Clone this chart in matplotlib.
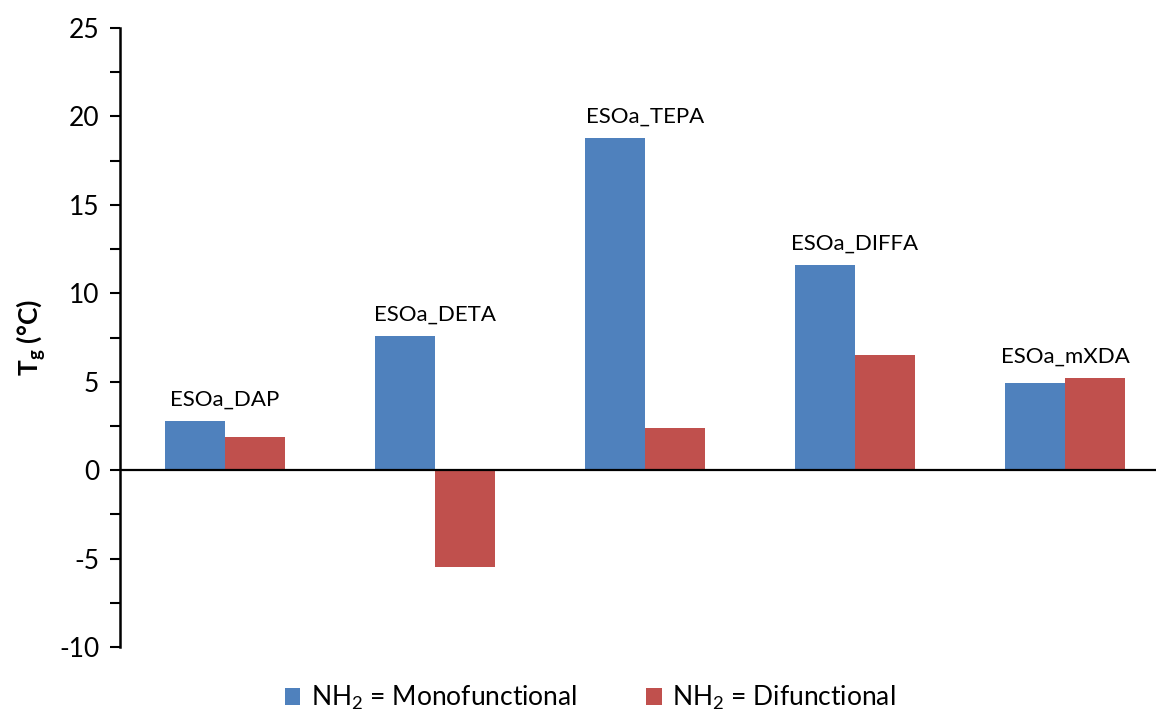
import numpy as np
import matplotlib.pyplot as plt
from matplotlib.ticker import MultipleLocator

samples = ['ESOa_DAP', 'ESOa_DETA', 'ESOa_TEPA', 'ESOa_DIFFA', 'ESOa_mXDA']
tg_mono = [2.8, 7.6, 18.8, 11.6, 4.9]
tg_di = [1.9, -5.5, 2.4, 6.5, 5.2]
series_labels = [r'NH$_2$ = Monofunctional', r'NH$_2$ = Difunctional']

plt.rcParams['font.family'] = ['Lato', 'DejaVu Sans']
plt.rcParams['mathtext.fontset'] = 'custom'
plt.rcParams['mathtext.rm'] = 'Lato'
plt.rcParams['mathtext.bf'] = 'Lato:bold'
plt.rcParams['axes.unicode_minus'] = False

fig = plt.figure(figsize=(11.56, 7.16), dpi=100)
ax = fig.add_axes([120 / 1156, 69 / 716, 1 - 120 / 1156, 619 / 716])

x = np.arange(len(samples))
w = 60 / 210
ax.bar(x - w / 2, tg_mono, w, color='#4F81BD', label=series_labels[0])
ax.bar(x + w / 2, tg_di, w, color='#C0504D', label=series_labels[1])

# sample names above each pair of bars
for i, name in enumerate(samples):
    top = max(tg_mono[i], tg_di[i], 0)
    ax.annotate(name, (x[i], top), xytext=(0, 8), textcoords='offset points',
                ha='center', va='bottom', fontsize=16)

ax.axhline(0, color='black', lw=1.6, zorder=3)
ax.set_xlim(-0.5, -0.5 + (1156 - 120) / 210)
ax.set_ylim(-10, 25)
ax.yaxis.set_major_locator(MultipleLocator(5))
ax.yaxis.set_minor_locator(MultipleLocator(2.5))
ax.tick_params(axis='y', which='both', direction='out', length=7, width=1.5,
               labelsize=19, pad=8)
ax.set_xticks([])
for side in ['top', 'right', 'bottom']:
    ax.spines[side].set_visible(False)
ax.spines['left'].set_linewidth(1.8)

ax.set_ylabel(r'$\mathbf{T_g}$ (°C)', fontsize=19, fontweight='bold', labelpad=8)

fig.legend(loc='center', bbox_to_anchor=(590 / 1156, 1 - 698 / 716), ncol=2,
           frameon=False, fontsize=19, handlelength=0.6, handleheight=0.6,
           handletextpad=0.4, columnspacing=2.6)

fig.savefig('out.png', dpi=100)
